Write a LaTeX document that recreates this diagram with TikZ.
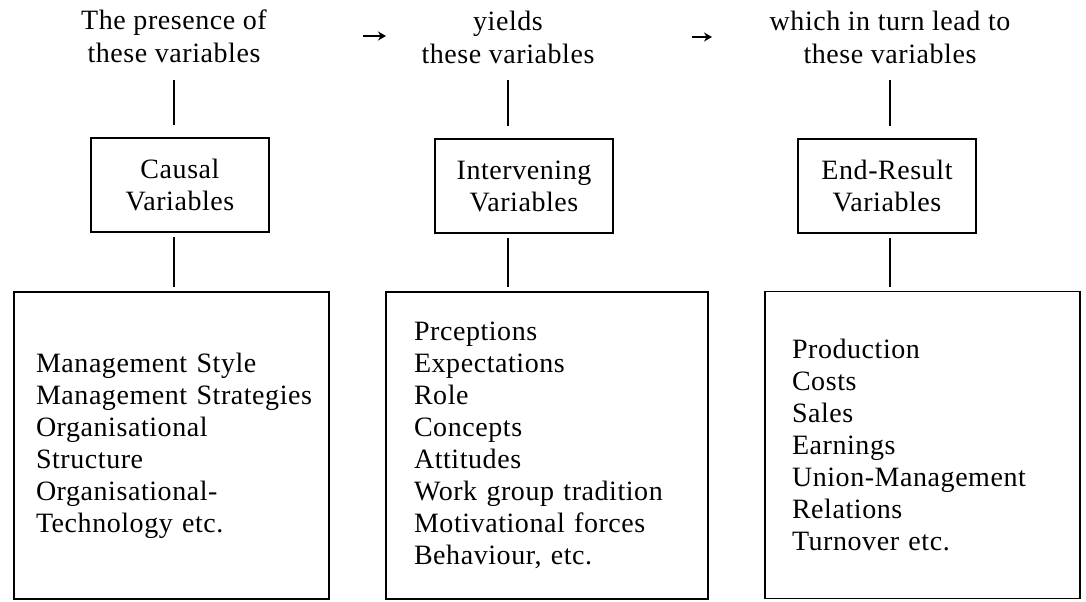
\documentclass[tikz,border=0pt]{standalone}
\usepackage{fontspec}
\setmainfont{Liberation Serif}[LetterSpace=2]
\usetikzlibrary{arrows.meta,positioning}

\tikzstyle{head} = [align=center, font=\fontsize{14}{16.5}\selectfont]
\tikzstyle{var} = [rectangle, draw=black, line width=0.9pt, minimum width=89pt, minimum height=47pt, align=center, font=\fontsize{14}{16}\selectfont]
\tikzstyle{list} = [rectangle, draw=black, line width=0.9pt, minimum height=153.5pt, align=left, font=\fontsize{14}{16}\selectfont]
\tikzstyle{link} = [line width=0.8pt, shorten <=5pt, shorten >=6pt]
\tikzstyle{arrow} = [line width=0.8pt, -{Stealth[length=4pt,width=4.5pt]}]

\begin{document}
\begin{tikzpicture}[x=0.5pt, y=-0.5pt]
    \useasboundingbox (0,0) rectangle (1086,601);

    \node (head0) [head] at (174,36) {The presence of\\these variables};
    \node (head1) [head] at (508,37) {yields\\these variables};
    \node (head2) [head] at (890,37) {which in turn lead to\\these variables};

    \coordinate (a0) at (363,36);
    \coordinate (b0) at (386,36);
    \coordinate (a1) at (692,37);
    \coordinate (b1) at (712,37);

    \node (var0) [var] at (180,185) {Causal\\Variables};
    \node (var1) [var] at (524,186) {Intervening\\Variables};
    \node (var2) [var] at (887,186) {End-Result\\Variables};

    \node (list0) [list, text width=135.5pt, inner xsep=11pt] at (171.5,445.5)
        {Management Style\\\mbox{Management Strategies}\\Organisational\\Structure\\Organisational-\\Technology etc.};
    \node (list1) [list, text width=133pt, inner xsep=14pt] at (547,445.5)
        {Prceptions\\Expectations\\Role\\Concepts\\Attitudes\\Work group tradition\\Motivational forces\\Behaviour, etc.};
    \node (list2) [list, text width=130.5pt, inner xsep=13.5pt] at (922.5,445)
        {Production\\Costs\\Sales\\Earnings\\Union-Management\\Relations\\Turnover etc.};

    \draw [arrow] (a0) -- (b0);
    \draw [arrow] (a1) -- (b1);

    \draw [link] (head0.south) -- (head0.south |- var0.north);
    \draw [link] (head1.south) -- (head1.south |- var1.north);
    \draw [link] (head2.south) -- (head2.south |- var2.north);
    \draw [link, shorten <=2pt, shorten >=2pt] (head0.south |- var0.south) -- (head0.south |- list0.north);
    \draw [link, shorten <=2pt, shorten >=2pt] (head1.south |- var1.south) -- (head1.south |- list1.north);
    \draw [link, shorten <=2pt, shorten >=2pt] (head2.south |- var2.south) -- (head2.south |- list2.north);
\end{tikzpicture}
\end{document}
